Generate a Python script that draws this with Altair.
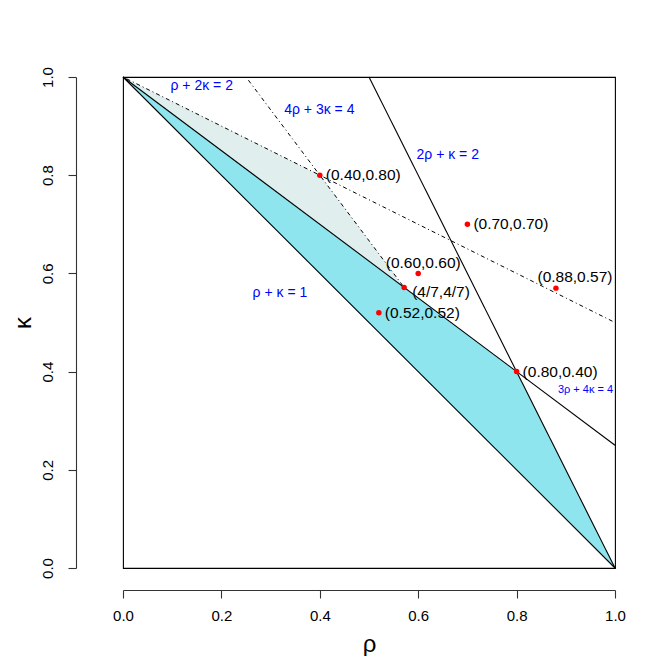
import altair as alt
import pandas as pd

# constraint lines (segments in data coords)
seg_name = ["ρ+κ=1", "2ρ+κ=2", "3ρ+4κ=4", "ρ+2κ=2", "4ρ+3κ=4"]
seg_x1 = [0.0, 0.5, 0.0, 0.0, 0.25]
seg_y1 = [1.0, 1.0, 1.0, 1.0, 1.0]
seg_x2 = [1.0, 1.0, 1.0, 1.0, 4 / 7]
seg_y2 = [0.0, 0.0, 0.25, 0.5, 4 / 7]
seg_style = ["solid", "solid", "solid", "dashdot", "dashdot"]

# shaded regions (upper / lower boundaries at breakpoints)
cyan_x = [0.0, 0.8, 1.0]
cyan_top = [1.0, 0.4, 0.0]
cyan_bottom = [1.0, 0.2, 0.0]
light_x = [0.0, 0.4, 4 / 7]
light_top = [1.0, 0.8, 4 / 7]
light_bottom = [1.0, 0.7, 4 / 7]

# points
pt_x = [0.40, 0.70, 0.52, 0.80, 4 / 7, 0.60, 0.88]
pt_y = [0.80, 0.70, 0.52, 0.40, 4 / 7, 0.60, 0.57]
pt_label = ["(0.40,0.80)", "(0.70,0.70)", "(0.52,0.52)", "(0.80,0.40)",
            "(4/7,4/7)", "(0.60,0.60)", "(0.88,0.57)"]
pt_group = ["right", "right", "right", "right", "right_low", "above", "above_r"]

# equation labels
eq_label = ["ρ + 2κ = 2", "4ρ + 3κ = 4", "2ρ + κ = 2", "ρ + κ = 1", "3ρ + 4κ = 4"]
eq_x = [0.160, 0.399, 0.660, 0.319, 0.940]
eq_y = [0.982, 0.933, 0.841, 0.560, 0.3625]
eq_small = [False, False, False, False, True]

segs = pd.DataFrame(dict(name=seg_name, x1=seg_x1, y1=seg_y1, x2=seg_x2, y2=seg_y2, style=seg_style))
cyan = pd.DataFrame(dict(x=cyan_x, top=cyan_top, bottom=cyan_bottom))
light = pd.DataFrame(dict(x=light_x, top=light_top, bottom=light_bottom))
pts = pd.DataFrame(dict(x=pt_x, y=pt_y, label=pt_label, group=pt_group))
eqs = pd.DataFrame(dict(x=eq_x, y=eq_y, label=eq_label, small=eq_small))

FONT = "Liberation Sans"
ticks = [0, 0.2, 0.4, 0.6, 0.8, 1.0]

xs = alt.Scale(domain=[0, 1], nice=False, zero=False)
ys = alt.Scale(domain=[0, 1], nice=False, zero=False)

X = alt.X("x:Q", scale=xs, title="ρ",
          axis=alt.Axis(values=ticks, format=".1f", offset=22, tickSize=8, labelFlush=False,
                        labelPadding=10, titlePadding=9, titleFontSize=24))
Y = alt.Y("top:Q", scale=ys, title="κ",
          axis=alt.Axis(values=ticks, format=".1f", offset=47, tickSize=8, labelFlush=False,
                        labelAngle=270, labelAlign="center", labelBaseline="bottom",
                        labelPadding=13, titlePadding=5, titleFontSize=24))

cyan_area = alt.Chart(cyan).mark_area(color="#8EE5EE", opacity=1).encode(
    x=X, y=Y, y2="bottom:Q")
light_area = alt.Chart(light).mark_area(color="#E0EEEE", opacity=1).encode(
    x=alt.X("x:Q", scale=xs), y=alt.Y("top:Q", scale=ys), y2="bottom:Q")

solid = alt.Chart(segs).transform_filter(alt.datum.style == "solid").mark_rule(
    color="black", strokeWidth=1.1).encode(
    x=alt.X("x1:Q", scale=xs), y=alt.Y("y1:Q", scale=ys), x2="x2:Q", y2="y2:Q")
dashdot = alt.Chart(segs).transform_filter(alt.datum.style == "dashdot").mark_rule(
    color="black", strokeWidth=1.0, strokeDash=[1, 3, 4, 3]).encode(
    x=alt.X("x1:Q", scale=xs), y=alt.Y("y1:Q", scale=ys), x2="x2:Q", y2="y2:Q")

points = alt.Chart(pts).mark_circle(color="red", size=30, opacity=1).encode(
    x=alt.X("x:Q", scale=xs), y=alt.Y("y:Q", scale=ys))

def lab(group, **kw):
    return alt.Chart(pts).transform_filter(alt.datum.group == group).mark_text(
        font=FONT, fontSize=15.5, color="black", **kw).encode(
        x=alt.X("x:Q", scale=xs), y=alt.Y("y:Q", scale=ys), text="label:N")

lab_r = lab("right", align="left", baseline="middle", dx=6)
lab_rl = lab("right_low", align="left", baseline="middle", dx=8, dy=5)
lab_a = lab("above", align="center", baseline="middle", dx=5, dy=-10)
lab_ar = lab("above_r", align="center", baseline="middle", dx=19, dy=-11)

eq_big = alt.Chart(eqs).transform_filter(alt.datum.small == False).mark_text(
    font=FONT, fontSize=14, color="blue", align="center", baseline="middle").encode(
    x=alt.X("x:Q", scale=xs), y=alt.Y("y:Q", scale=ys), text="label:N")
eq_sm = alt.Chart(eqs).transform_filter(alt.datum.small == True).mark_text(
    font=FONT, fontSize=11, color="blue", align="center", baseline="middle").encode(
    x=alt.X("x:Q", scale=xs), y=alt.Y("y:Q", scale=ys), text="label:N")

chart = alt.layer(cyan_area, light_area, solid, dashdot, points,
                  lab_r, lab_rl, lab_a, lab_ar, eq_big, eq_sm).properties(
    width=492, height=491,
    autosize=alt.AutoSizeParams(type="none"),
    padding={"left": 115, "top": 69, "right": 41, "bottom": 88},
).configure_view(stroke="black", strokeWidth=1.1).configure_axis(
    grid=False, domainColor="#333333", tickColor="#333333", domainWidth=1.1, tickWidth=1.1,
    labelFont=FONT, labelFontSize=15, labelColor="black",
    titleFont=FONT, titleFontWeight="normal", titleColor="black",
)

chart.save("out.html", embed_options={"renderer": "svg", "actions": False})
